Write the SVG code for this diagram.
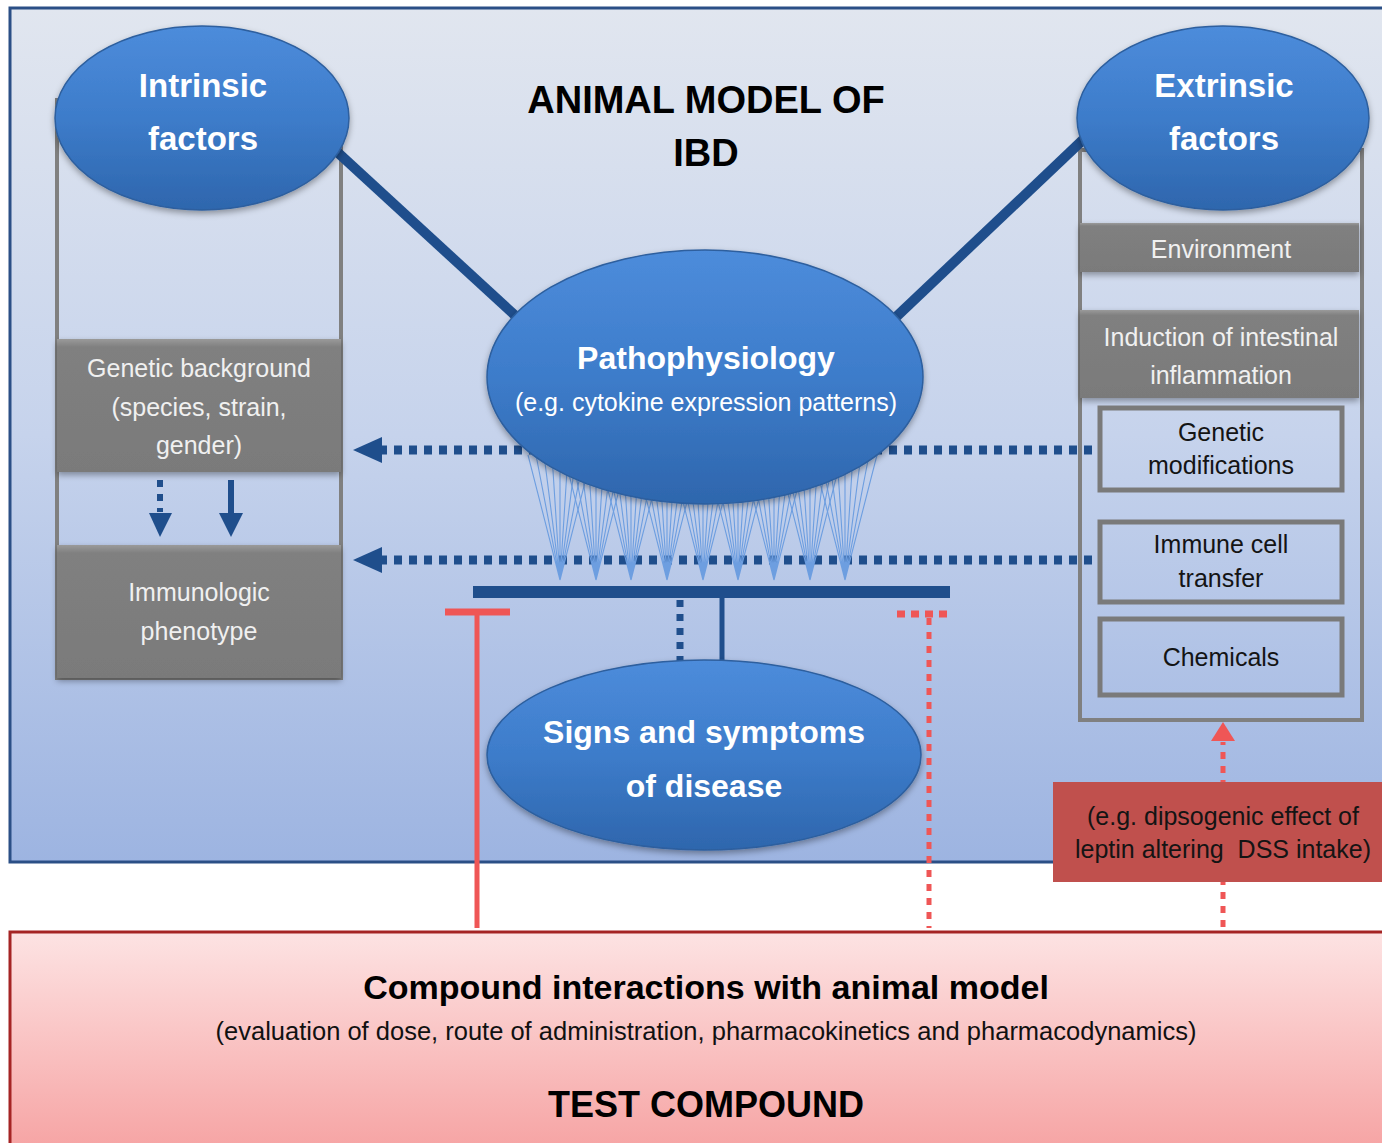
<svg xmlns="http://www.w3.org/2000/svg" xmlns:xlink="http://www.w3.org/1999/xlink" width="1382" height="1143" viewBox="0 0 1382 1143">
<defs>
  <linearGradient id="bgFrame" x1="0" y1="0" x2="0" y2="1">
    <stop offset="0" stop-color="#e1e6ef"/>
    <stop offset="0.5" stop-color="#c6d3ec"/>
    <stop offset="1" stop-color="#9db4e1"/>
  </linearGradient>
  <linearGradient id="bgPink" x1="0" y1="0" x2="0" y2="1">
    <stop offset="0" stop-color="#fde3e3"/>
    <stop offset="1" stop-color="#f6a3a3"/>
  </linearGradient>
  <linearGradient id="ell" x1="0" y1="0" x2="0" y2="1">
    <stop offset="0" stop-color="#4d8cdb"/>
    <stop offset="0.5" stop-color="#3d7cca"/>
    <stop offset="1" stop-color="#2e66ad"/>
  </linearGradient>
  <linearGradient id="grey" x1="0" y1="0" x2="0" y2="1">
    <stop offset="0" stop-color="#9a9a9a"/>
    <stop offset="0.06" stop-color="#808080"/>
    <stop offset="1" stop-color="#7a7a7a"/>
  </linearGradient>
  <filter id="shadow" x="-10%" y="-10%" width="120%" height="130%">
    <feDropShadow dx="0" dy="3" stdDeviation="3" flood-color="#000" flood-opacity="0.35"/>
  </filter>
  <path id="fan" d="M-32,-125 L0,0 M-24,-125 L0,0 M-16,-125 L0,0 M-8,-125 L0,0 M0,-125 L0,0 M8,-125 L0,0 M16,-125 L0,0 M24,-125 L0,0 M32,-125 L0,0" fill="none" stroke="#6d9ee0" stroke-width="1.1"/>
  <style>
    .ttl{font-family:"Liberation Sans",Arial,sans-serif;font-weight:bold;fill:#000;text-anchor:middle}
    .ew{font-family:"Liberation Sans",Arial,sans-serif;font-weight:bold;fill:#fff;text-anchor:middle}
    .sub{font-family:"Liberation Sans",Arial,sans-serif;fill:#fff;text-anchor:middle}
    .gt{font-family:"Liberation Sans",Arial,sans-serif;fill:#f0f0f0;text-anchor:middle;font-size:25px}
    .dt{font-family:"Liberation Sans",Arial,sans-serif;fill:#141414;text-anchor:middle;font-size:25px}
    .ellipse{fill:url(#ell);stroke:#2d5f9e;stroke-width:1.5;filter:url(#shadow)}
    .gbox{fill:url(#grey);filter:url(#shadow)}
    .outline{fill:none;stroke:#808080;stroke-width:4}
    .obox{fill:none;stroke:#7a7a7a;stroke-width:5}
    .thick{stroke:#1f4e8c;stroke-width:10;fill:none}
    .dotb{stroke:#1f4e8c;stroke-width:9;stroke-dasharray:8 7;fill:none}
    .blue{fill:#1f4e8c}
    .red{stroke:#ef5656;fill:none}
    .redf{fill:#ef5656}
  </style>
</defs>

<!-- background frames -->
<rect x="0" y="0" width="1382" height="1143" fill="#ffffff"/>
<rect id="frame" x="10" y="8" width="1376" height="854" fill="url(#bgFrame)" stroke="#2b4f86" stroke-width="3"/>

<!-- column outlines -->
<g id="left-column"><rect class="outline" x="57" y="100" width="284" height="578"/></g>
<g id="right-column"><rect class="outline" x="1080" y="150" width="282" height="570"/></g>

<!-- connectors -->
<g id="connectors">
  <line class="thick" x1="335" y1="150" x2="520" y2="320"/>
  <line class="thick" x1="1088" y1="135" x2="895" y2="318"/>
  <line class="dotb" x1="1092" y1="450" x2="380" y2="450"/>
  <polygon class="blue" points="353,450 382,437 382,463"/>
  <line class="dotb" x1="1092" y1="560" x2="380" y2="560"/>
  <polygon class="blue" points="353,560 382,547 382,573"/>
  <use xlink:href="#fan" x="560" y="580"/>
  <use xlink:href="#fan" x="596" y="580"/>
  <use xlink:href="#fan" x="631" y="580"/>
  <use xlink:href="#fan" x="667" y="580"/>
  <use xlink:href="#fan" x="703" y="580"/>
  <use xlink:href="#fan" x="738" y="580"/>
  <use xlink:href="#fan" x="774" y="580"/>
  <use xlink:href="#fan" x="810" y="580"/>
  <use xlink:href="#fan" x="845" y="580"/>
  <rect class="blue" x="473" y="586" width="477" height="12"/>
  <line x1="722" y1="598" x2="722" y2="664" stroke="#1f4e8c" stroke-width="5"/>
  <line x1="680" y1="600" x2="680" y2="664" stroke="#1f4e8c" stroke-width="7" stroke-dasharray="7 7"/>
  <!-- inhibition from compound -->
  <line class="red" x1="477" y1="612" x2="477" y2="928" stroke-width="5"/>
  <line class="red" x1="445" y1="612" x2="510" y2="612" stroke-width="7"/>
  <line class="red" x1="929" y1="618" x2="929" y2="928" stroke-width="5" stroke-dasharray="7 7"/>
  <line class="red" x1="897" y1="614" x2="952" y2="614" stroke-width="7" stroke-dasharray="8 6"/>
  <line class="red" x1="1223" y1="927" x2="1223" y2="742" stroke-width="5" stroke-dasharray="7 7"/>
  <polygon class="redf" points="1223,722 1235,741 1211,741"/>
  <!-- small arrows in left column -->
  <line x1="160" y1="480" x2="160" y2="512" stroke="#1f4e8c" stroke-width="6" stroke-dasharray="7 7"/>
  <polygon class="blue" points="149,513 172,513 160,537"/>
  <line x1="231" y1="480" x2="231" y2="515" stroke="#1f4e8c" stroke-width="6"/>
  <polygon class="blue" points="219,513 243,513 231,537"/>
</g>

<!-- title -->
<g id="title">
  <text class="ttl" x="706" y="113" font-size="38">ANIMAL MODEL OF</text>
  <text class="ttl" x="706" y="166" font-size="38">IBD</text>
</g>

<!-- nodes -->
<g id="intrinsic">
  <ellipse class="ellipse" cx="202" cy="118" rx="147" ry="92"/>
  <text class="ew" x="203" y="97" font-size="33">Intrinsic</text>
  <text class="ew" x="203" y="150" font-size="33">factors</text>
</g>
<g id="extrinsic">
  <ellipse class="ellipse" cx="1223" cy="118" rx="146" ry="92"/>
  <text class="ew" x="1224" y="97" font-size="33">Extrinsic</text>
  <text class="ew" x="1224" y="150" font-size="33">factors</text>
</g>
<g id="pathophysiology">
  <ellipse class="ellipse" cx="705" cy="377" rx="218" ry="127"/>
  <text class="ew" x="706" y="369" font-size="32">Pathophysiology</text>
  <text class="sub" x="706" y="411" font-size="25">(e.g. cytokine expression patterns)</text>
</g>
<g id="signs">
  <ellipse class="ellipse" cx="704" cy="755" rx="217" ry="95"/>
  <text class="ew" x="704" y="743" font-size="32">Signs and symptoms</text>
  <text class="ew" x="704" y="797" font-size="32">of disease</text>
</g>
<g id="genetic-background">
  <rect class="gbox" x="57" y="339" width="284" height="133"/>
  <text class="gt" x="199" y="377">Genetic background</text>
  <text class="gt" x="199" y="416">(species, strain,</text>
  <text class="gt" x="199" y="454">gender)</text>
</g>
<g id="immunologic-phenotype">
  <rect class="gbox" x="57" y="545" width="284" height="133"/>
  <text class="gt" x="199" y="601">Immunologic</text>
  <text class="gt" x="199" y="640">phenotype</text>
</g>
<g id="environment">
  <rect class="gbox" x="1080" y="223" width="279" height="49"/>
  <text class="gt" x="1221" y="258">Environment</text>
</g>
<g id="induction">
  <rect class="gbox" x="1080" y="310" width="279" height="88"/>
  <text class="gt" x="1221" y="346">Induction of intestinal</text>
  <text class="gt" x="1221" y="384">inflammation</text>
</g>
<g id="genetic-modifications">
  <rect class="obox" x="1100" y="408" width="242" height="82"/>
  <text class="dt" x="1221" y="441">Genetic</text>
  <text class="dt" x="1221" y="474">modifications</text>
</g>
<g id="immune-cell-transfer">
  <rect class="obox" x="1100" y="522" width="242" height="80"/>
  <text class="dt" x="1221" y="553">Immune cell</text>
  <text class="dt" x="1221" y="587">transfer</text>
</g>
<g id="chemicals">
  <rect class="obox" x="1100" y="619" width="242" height="76"/>
  <text class="dt" x="1221" y="666">Chemicals</text>
</g>
<g id="dipsogenic">
  <rect x="1053" y="782" width="335" height="100" fill="#c0504d"/>
  <text class="dt" x="1223" y="825">(e.g. dipsogenic effect of</text>
  <text class="dt" x="1223" y="858" xml:space="preserve">leptin altering  DSS intake)</text>
</g>
<g id="test-compound">
  <rect x="10" y="932" width="1380" height="220" fill="url(#bgPink)" stroke="#a52424" stroke-width="3"/>
  <text class="ttl" x="706" y="999" font-size="34">Compound interactions with animal model</text>
  <text x="706" y="1040" font-size="25.5" font-family="Liberation Sans, Arial, sans-serif" fill="#111" text-anchor="middle">(evaluation of dose, route of administration, pharmacokinetics and pharmacodynamics)</text>
  <text class="ttl" x="706" y="1117" font-size="36">TEST COMPOUND</text>
</g>
</svg>
